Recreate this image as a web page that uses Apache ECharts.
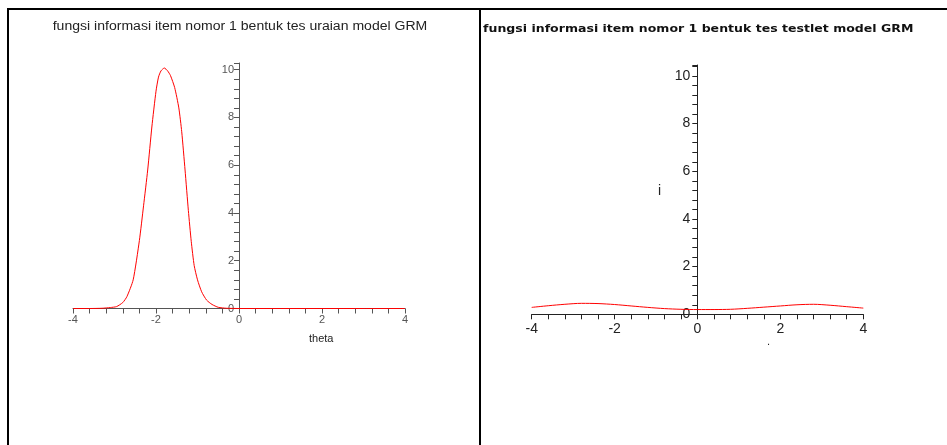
<!DOCTYPE html>
<html><head><meta charset="utf-8">
<script src="https://cdn.jsdelivr.net/npm/echarts@6/dist/echarts.min.js"></script>
<style>html,body{margin:0;padding:0;background:#fff}#c{width:947px;height:445px}</style>
</head><body><div id="c"></div>
<script>
// ---- data ----
const titleLeft = 'fungsi informasi item nomor 1 bentuk tes uraian model GRM';
const titleRight = 'fungsi informasi item nomor 1 bentuk tes testlet model GRM';
const xTicks = [-4, -2, 0, 2, 4];
const yTicks = [0, 2, 4, 6, 8, 10];
const uraianTheta = [-4, -3.6, -3.3, -3.1, -2.95, -2.8, -2.7, -2.55, -2.4, -2.3, -2.2, -2.1, -2.0, -1.94, -1.88, -1.8, -1.72, -1.65, -1.55, -1.45, -1.38, -1.3, -1.22, -1.15, -1.08, -1.0, -0.9, -0.78, -0.65, -0.5, -0.3, 0, 1, 2, 3, 4];
const uraianInfo  = [0, 0, 0.01, 0.04, 0.08, 0.25, 0.5, 1.2, 2.85, 4.3, 5.8, 7.6, 9.1, 9.69, 9.95, 10.07, 9.95, 9.75, 9.25, 8.4, 7.4, 5.8, 4.1, 2.8, 1.8, 1.2, 0.7, 0.35, 0.17, 0.05, 0.01, 0, 0, 0, 0, 0];
const testletTheta = [-4, -3.6, -3.2, -2.8, -2.4, -2.0, -1.6, -1.2, -0.8, -0.4, 0, 0.4, 0.8, 1.2, 1.6, 2.0, 2.4, 2.8, 3.2, 3.6, 4];
const testletInfo  = [0.29, 0.36, 0.42, 0.46, 0.45, 0.41, 0.35, 0.29, 0.24, 0.21, 0.20, 0.20, 0.21, 0.25, 0.30, 0.35, 0.40, 0.42, 0.38, 0.32, 0.26];

const pairs = (xs, ys) => xs.map((x, i) => [x, ys[i]]);

function xAxisCfg(gi, fs, color, margin) {
  return {
    type: 'value', gridIndex: gi, min: -4, max: 4, interval: 2,
    axisLine: { onZero: true, lineStyle: { color: color, width: 1 } },
    axisTick: { show: true, length: 5, lineStyle: { color: color } },
    minorTick: { show: true, splitNumber: 5, length: 5, lineStyle: { color: color } },
    axisLabel: { fontFamily: 'Liberation Sans', fontSize: fs, color: color, margin: margin,
      formatter: v => xTicks.includes(v) ? String(v) : '' },
    splitLine: { show: false }
  };
}
function yAxisCfg(gi, max, fs, color, margin, offset) {
  return {
    type: 'value', gridIndex: gi, min: 0, max: max, interval: 2,
    position: 'left', offset: offset,
    axisLine: { onZero: false, lineStyle: { color: color, width: 1 } },
    axisTick: { show: true, length: 5, lineStyle: { color: color } },
    minorTick: { show: true, splitNumber: 5, length: 5, lineStyle: { color: color } },
    axisLabel: { fontFamily: 'Liberation Sans', fontSize: fs, color: color, margin: margin,
      formatter: v => yTicks.includes(v) ? String(v) : '' },
    splitLine: { show: false }
  };
}

const chart = echarts.init(document.getElementById('c'), null, { renderer: 'canvas' });
chart.setOption({
  animation: false,
  backgroundColor: '#fff',
  grid: [
    { left: 73, right: 542, top: 63, bottom: 136.5 },
    { left: 531.7, right: 83.7, top: 65, bottom: 130.7 }
  ],
  xAxis: [ xAxisCfg(0, 11, '#555', 6), xAxisCfg(1, 14, '#222', 8) ],
  yAxis: [ yAxisCfg(0, 10.28, 11, '#555', 5, -166), yAxisCfg(1, 10.46, 14, '#222', 7, -165.6) ],
  series: [
    { type: 'line', xAxisIndex: 0, yAxisIndex: 0, data: pairs(uraianTheta, uraianInfo),
      showSymbol: false, smooth: 0.2, lineStyle: { color: '#ff0000', width: 1 } },
    { type: 'line', xAxisIndex: 1, yAxisIndex: 1, data: pairs(testletTheta, testletInfo),
      showSymbol: false, smooth: 0.3, lineStyle: { color: '#ff0000', width: 1 } }
  ],
  graphic: [
    { type: 'line', shape: { x1: 8, y1: 9, x2: 947, y2: 9 }, style: { stroke: '#000', lineWidth: 2 } },
    { type: 'line', shape: { x1: 8, y1: 8, x2: 8, y2: 445 }, style: { stroke: '#000', lineWidth: 2 } },
    { type: 'line', shape: { x1: 480, y1: 8, x2: 480, y2: 445 }, style: { stroke: '#000', lineWidth: 2 } },
    { type: 'text', x: 240, y: 27, scaleX: 1.17, originX: 0, originY: 0,
      style: { text: titleLeft, fontFamily: 'Liberation Sans', fontSize: 12, fill: '#222', align: 'center', verticalAlign: 'middle' } },
    { type: 'text', x: 483, y: 29, scaleX: 1.14, originX: 0, originY: 0,
      style: { text: titleRight, fontFamily: 'DejaVu Sans', fontSize: 11, fontWeight: 'bold', fill: '#111', align: 'left', verticalAlign: 'middle' } },
    { type: 'text', left: 309, top: 333, style: { text: 'theta', fontFamily: 'Liberation Sans', fontSize: 11, fill: '#222' } },
    { type: 'text', left: 658, top: 184, style: { text: 'i', fontFamily: 'Liberation Sans', fontSize: 14, fill: '#222' } },
    { type: 'text', left: 767, top: 336, style: { text: '.', fontFamily: 'Liberation Sans', fontSize: 11, fill: '#222' } }
  ]
});
</script>
</body></html>
